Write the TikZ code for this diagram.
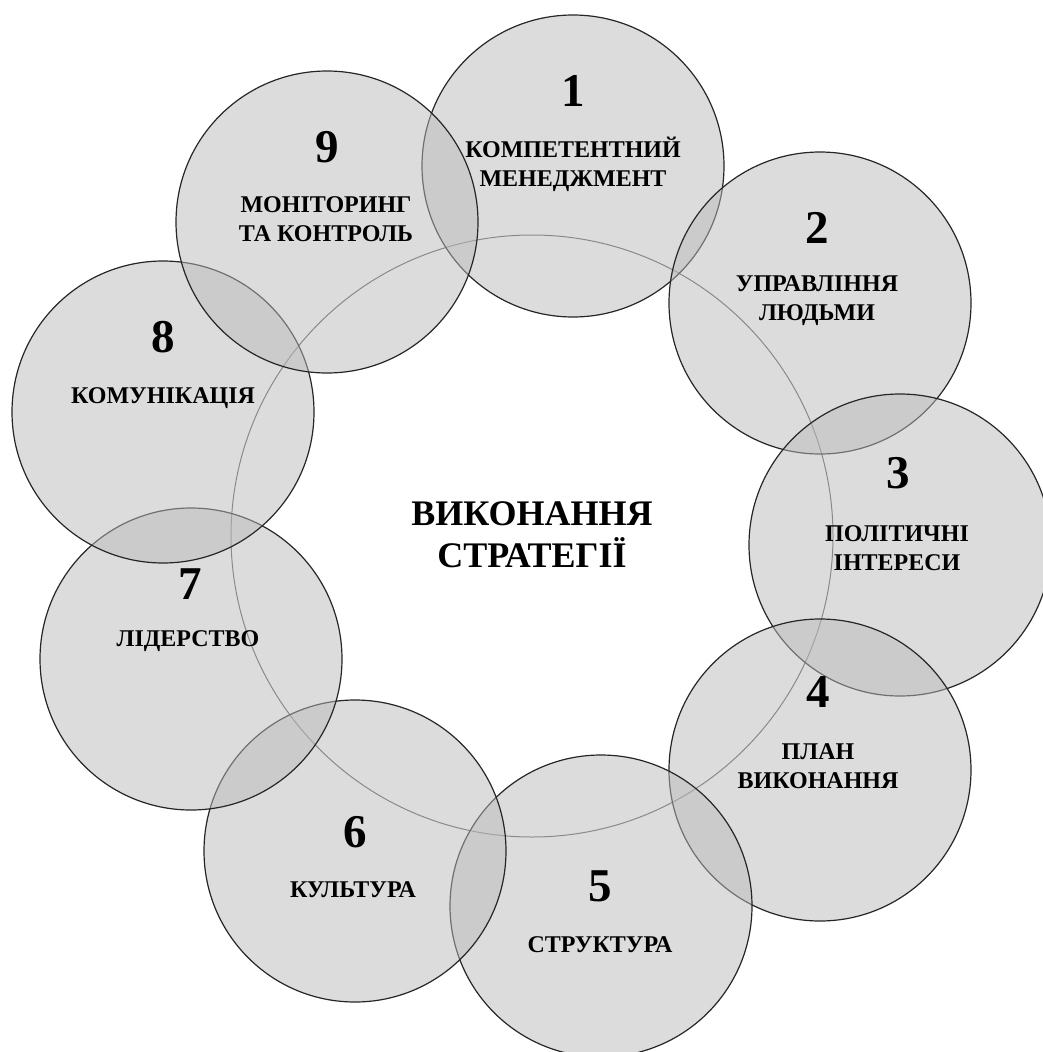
\documentclass[tikz,border=0pt]{standalone}
\usepackage{fontspec}
\setmainfont{Liberation Serif}
\usepackage{tikz}
\usetikzlibrary{positioning}
\tikzset{
  part/.style={circle, draw=black!85, line width=1.2pt, fill=black!27, fill opacity=0.5, minimum size=302pt, inner sep=0pt},
  core/.style={circle, draw=black!65, line width=1pt, minimum size=602pt, inner sep=0pt},
  num/.style={font=\fontsize{47}{47}\selectfont\bfseries, inner sep=0pt},
  lbl/.style={font=\fontsize{24}{29}\selectfont\bfseries, align=center, inner sep=0pt},
  ttl/.style={font=\fontsize{36}{42}\selectfont\bfseries, align=center, inner sep=0pt}
}
\begin{document}
\begin{tikzpicture}[x=1pt, y=-1pt]
  \useasboundingbox (0,0) rectangle (1043,1052);
  \node[core] (k) at (532,536) {};
  \node[part] (c1) at (573,166) {};
  \node[part] (c2) at (820,303) {};
  \node[part] (c3) at (900,545) {};
  \node[part] (c4) at (820,770) {};
  \node[part] (c5) at (601,906) {};
  \node[part] (c6) at (355,851) {};
  \node[part] (c7) at (191,659) {};
  \node[part] (c8) at (163,412) {};
  \node[part] (c9) at (327,222) {};
  % numbers and labels
  \node[num] (n1) at (573,91) {1};
  \node[lbl] (l1) at (573,164) {КОМПЕТЕНТНИЙ\\МЕНЕДЖМЕНТ};
  \node[num] (n2) at (817,228) {2};
  \node[lbl] (l2) at (817,301) {УПРАВЛІННЯ\\ЛЮДЬМИ};
  \node[num] (n3) at (898,473) {3};
  \node[lbl] (l3) at (897,548) {ПОЛІТИЧНІ\\ІНТЕРЕСИ};
  \node[num] (n4) at (818,692) {4};
  \node[lbl] (l4) at (818,766) {ПЛАН\\ВИКОНАННЯ};
  \node[num] (n5) at (600,886) {5};
  \node[lbl] (l5) at (600,945) {СТРУКТУРА};
  \node[num] (n6) at (355,832) {6};
  \node[lbl] (l6) at (353,890) {КУЛЬТУРА};
  \node[num] (n7) at (190,584) {7};
  \node[lbl] (l7) at (188,641) {ЛІДЕРСТВО};
  \node[num] (n8) at (163,337) {8};
  \node[lbl] (l8) at (163,398) {КОМУНІКАЦІЯ};
  \node[num] (n9) at (327,147) {9};
  \node[lbl] (l9) at (326,219) {МОНІТОРИНГ\\ТА КОНТРОЛЬ};
  \node[ttl] (t) at (532,535) {ВИКОНАННЯ\\СТРАТЕГІЇ};
\end{tikzpicture}
\end{document}
